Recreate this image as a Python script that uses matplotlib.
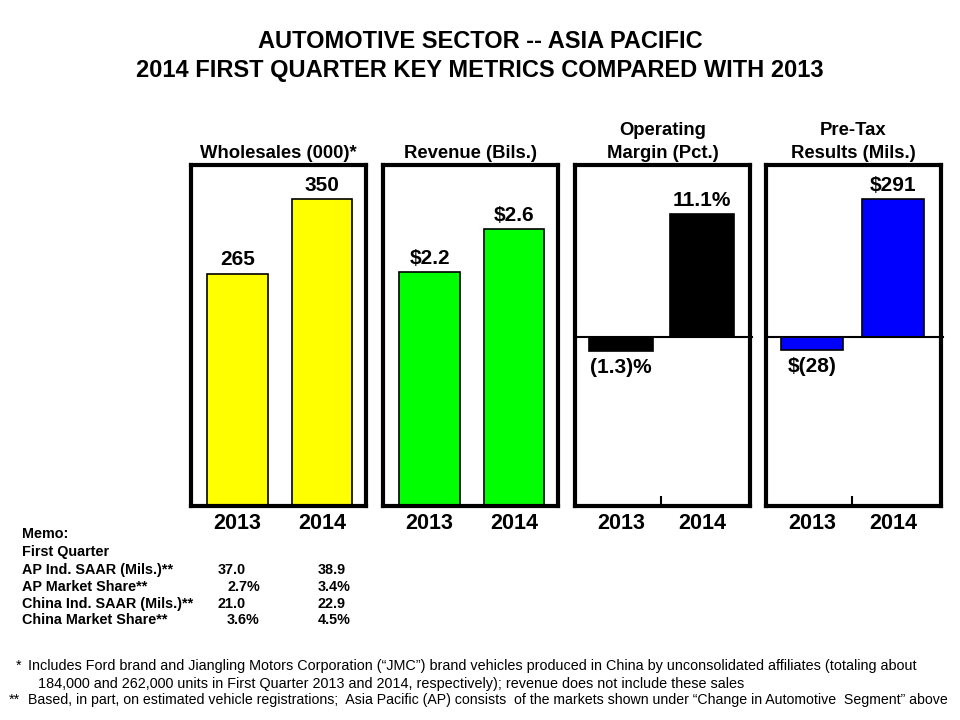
import matplotlib.pyplot as plt

plt.rcParams['font.family'] = ['Liberation Sans', 'DejaVu Sans']
plt.rcParams['font.weight'] = 'bold'

years = ["2013", "2014"]
wholesales = [265, 350]
revenue = [2.2, 2.6]
op_margin = [-1.3, 11.1]
pretax = [-28, 291]

wholesale_labels = ["265", "350"]
revenue_labels = ["$2.2", "$2.6"]
margin_labels = ["(1.3)%", "11.1%"]
pretax_labels = ["$(28)", "$291"]

memo_rows = ["AP Ind. SAAR (Mils.)**", "AP Market Share**",
             "China Ind. SAAR (Mils.)**", "China Market Share**"]
memo_2013 = ["37.0", "2.7%", "21.0", "3.6%"]
memo_2014 = ["38.9", "3.4%", "22.9", "4.5%"]

W, H = 960, 720
fig = plt.figure(figsize=(9.6, 7.2), dpi=100)

def fx(px):
    return px / W

def fy(py):
    return 1 - py / H

# title
fig.text(0.5, fy(42), "AUTOMOTIVE SECTOR -- ASIA PACIFIC", ha='center', va='center', fontsize=17, fontweight='bold')
fig.text(0.5, fy(71), "2014 FIRST QUARTER KEY METRICS COMPARED WITH 2013", ha='center', va='center', fontsize=17, fontweight='bold')

# title, values, labels, colour, ylim, left px, xlim, bar width
panels = [
    ("Wholesales (000)*", wholesales, wholesale_labels, "#FFFF00", (0, 389), 191, (-0.551, 1.52), 0.72),
    ("Revenue (Bils.)", revenue, revenue_labels, "#00FF00", (0, 3.206), 383, (-0.551, 1.52), 0.72),
    ("Operating\nMargin (Pct.)", op_margin, margin_labels, "#000000", (-15.2, 15.52), 575, (-0.565, 1.595), 0.79),
    ("Pre-Tax\nResults (Mils.)", pretax, pretax_labels, "#0000FF", (-355.3, 362.7), 766, (-0.565, 1.595), 0.76),
]

top_px, bot_px, w_px = 165, 505.5, 175
x = [0, 1]
for title, vals, labels, color, ylim, left, xlim, bw in panels:
    ax = fig.add_axes([fx(left), fy(bot_px), fx(w_px), (bot_px - top_px) / H])
    ax.bar(x, vals, width=bw, color=color, edgecolor='black', linewidth=1.2, zorder=2)
    ax.set_xlim(*xlim)
    ax.set_ylim(*ylim)
    for s in ax.spines.values():
        s.set_linewidth(3)
    ax.set_yticks([])
    ax.set_xticks(x, years, fontsize=15.5, fontweight='bold')
    ax.tick_params(axis='x', length=0, pad=5.5)
    if ylim[0] < 0:
        ax.axhline(0, color='black', linewidth=1.5, xmax=1.01, clip_on=False, zorder=3)
        ax.set_xticks([0.5], minor=True)
        ax.tick_params(axis='x', which='minor', direction='in', length=7, width=1.5)
    for xi, v, lab in zip(x, vals, labels):
        if v >= 0:
            ax.annotate(lab, (xi, v), xytext=(0, 3), textcoords='offset points',
                        ha='center', va='bottom', fontsize=15, fontweight='bold')
        else:
            ax.annotate(lab, (xi, v), xytext=(0, -5), textcoords='offset points',
                        ha='center', va='top', fontsize=15, fontweight='bold')
    ax.set_title(title, fontsize=13.3, fontweight='bold', pad=5, linespacing=1.45)

# memo block
fig.text(fx(22), fy(534), "Memo:", ha='left', va='center', fontsize=10.4, fontweight='bold')
fig.text(fx(22), fy(552), "First Quarter", ha='left', va='center', fontsize=10.4, fontweight='bold')
row_y = [570, 587, 604, 620]
for ry, name, a, b in zip(row_y, memo_rows, memo_2013, memo_2014):
    off = 9 if a.endswith('%') else 0
    fig.text(fx(22), fy(ry), name, ha='left', va='center', fontsize=10.4, fontweight='bold')
    fig.text(fx(218 + off), fy(ry), a, ha='left', va='center', fontsize=10.4, fontweight='bold')
    fig.text(fx(318), fy(ry), b, ha='left', va='center', fontsize=10.4, fontweight='bold')

# footnotes
fn = dict(ha='left', va='center', fontweight='normal',
          family=['Liberation Sans Narrow', 'Liberation Sans', 'DejaVu Sans'])
fig.text(fx(16), fy(666), "*", fontsize=10.4, **fn)
fig.text(fx(28), fy(666), "Includes Ford brand and Jiangling Motors Corporation (\u201cJMC\u201d) brand vehicles produced in China by unconsolidated affiliates (totaling about", fontsize=10.4, **fn)
fig.text(fx(38), fy(684), "184,000 and 262,000 units in First Quarter 2013 and 2014, respectively); revenue does not include these sales", fontsize=10.4, **fn)
fig.text(fx(9), fy(700), "**", fontsize=10.4, **fn)
fig.text(fx(28), fy(700), "Based, in part, on estimated vehicle registrations;  Asia Pacific (AP) consists  of the markets shown under \u201cChange in Automotive  Segment\u201d above", fontsize=10.15, **fn)

fig.savefig("out.png", dpi=100)
